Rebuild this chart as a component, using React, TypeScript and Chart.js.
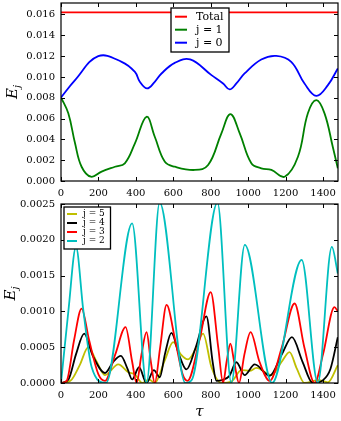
import { useEffect, useRef } from "react";
import { Chart, registerables } from "chart.js";

Chart.register(...registerables);

// ---------- data ----------
const TAU_MAX = 1480;
const xTickValues = [0, 200, 400, 600, 800, 1000, 1200, 1400];
const topTickValues = [0, 0.002, 0.004, 0.006, 0.008, 0.01, 0.012, 0.014, 0.016];
const bottomTickValues = [0, 0.0005, 0.001, 0.0015, 0.002, 0.0025];

const totalTau = [0, 1480];
const totalE = [0.0162, 0.0162];

const j1Tau = [0, 39, 75, 110, 160, 217, 288, 341, 395, 457, 501, 555, 608, 715, 786, 857, 905, 955, 1017, 1070, 1124, 1195, 1266, 1319, 1364, 1408, 1452, 1479];
const j1E = [0.00803, 0.0065, 0.00362, 0.00137, 0.00041, 0.0009, 0.00137, 0.0017, 0.00362, 0.00617, 0.00425, 0.00185, 0.00137, 0.00106, 0.00153, 0.00458, 0.00643, 0.00458, 0.0017, 0.00122, 0.00106, 0.00041, 0.00233, 0.0065, 0.00777, 0.0065, 0.00329, 0.00122];

const j0Tau = [0, 75, 199, 324, 395, 421, 460, 501, 537, 608, 690, 804, 866, 901, 937, 981, 1070, 1150, 1230, 1301, 1364, 1426, 1479];
const j0E = [0.00803, 0.00969, 0.01199, 0.01145, 0.01048, 0.00953, 0.00889, 0.00953, 0.01033, 0.01135, 0.01168, 0.01017, 0.00937, 0.0088, 0.00937, 0.01033, 0.01167, 0.01202, 0.01145, 0.00937, 0.00818, 0.00921, 0.01081];

const j5Tau = [0, 50, 100, 146, 190, 235, 306, 360, 395, 434, 470, 501, 555, 599, 640, 679, 720, 759, 804, 857, 910, 964, 1008, 1044, 1124, 1180, 1221, 1260, 1301, 1376, 1426, 1479];
const j5E = [0, 0.00003, 0.00025, 0.0005, 0.0003, 0.00011, 0.00026, 0.00015, 0.00012, 0, 0.00005, 0, 0.00032, 0.00057, 0.0004, 0.00033, 0.00048, 0.00069, 0.00022, 0, 0.00002, 0.00018, 0.00017, 0.00021, 0.00011, 0.0003, 0.00043, 0.0002, 0, 0.00004, 0.00001, 0.00025];

const j4Tau = [0, 40, 80, 124, 170, 235, 280, 320, 355, 380, 417, 457, 496, 528, 555, 590, 630, 670, 720, 777, 810, 830, 860, 900, 937, 981, 1035, 1115, 1180, 1234, 1290, 1345, 1400, 1440, 1479];
const j4E = [0, 0.00005, 0.0004, 0.00069, 0.00038, 0.00014, 0.0003, 0.00038, 0.0002, 0.00005, 0.00022, 0, 0.00018, 0.00008, 0.0004, 0.0007, 0.0004, 0.00019, 0.0005, 0.00093, 0.0003, 0.00003, 0.00004, 0.0001, 0.00029, 0.00011, 0.00026, 0.0001, 0.0004, 0.00064, 0.0003, 0, 0.00004, 0.0002, 0.00064];

const j3Tau = [0, 30, 70, 110, 150, 200, 235, 290, 345, 380, 404, 430, 457, 480, 501, 530, 564, 610, 650, 676, 740, 800, 840, 866, 885, 905, 925, 951, 980, 1013, 1060, 1115, 1180, 1248, 1300, 1355, 1400, 1461, 1479];
const j3E = [0, 0.00003, 0.0006, 0.00104, 0.0006, 0.00012, 0.00003, 0.0004, 0.00078, 0.0003, 0, 0.0004, 0.00071, 0.0003, 0, 0.0005, 0.00109, 0.0006, 0.00012, 0.00003, 0.0006, 0.00127, 0.0005, 0, 0.0003, 0.00055, 0.0003, 0, 0.0004, 0.00071, 0.0003, 0.00003, 0.0005, 0.00111, 0.0005, 0, 0.0004, 0.00106, 0.001];

const j2Tau = [0, 40, 80, 119, 164, 240, 380, 457, 527, 665, 700, 836, 910, 982, 1128, 1286, 1372, 1447, 1479];
const j2E = [0, 0.00102, 0.0019, 0.00102, 0.00022, 0, 0.00223, 0, 0.00252, 0, 0.00005, 0.00252, 0, 0.00193, 0, 0.00172, 0, 0.0019, 0.00153];

// ---------- helpers ----------
const SERIF = "'DejaVu Serif', serif";

const pts = (xs: number[], ys: number[]) => xs.map((x, i) => ({ x, y: ys[i] }));

const line = (label: string, color: string, xs: number[], ys: number[], order: number, smooth: boolean) => ({
  label,
  data: pts(xs, ys),
  borderColor: color,
  backgroundColor: color,
  borderWidth: 1.8,
  pointRadius: 0,
  fill: false,
  tension: smooth ? 0.4 : 0,
  cubicInterpolationMode: smooth ? ("default" as const) : ("monotone" as const),
  order,
});

const decorPlugin = {
  id: "decor",
  afterDatasetsDraw(chart: any, _args: any, opts: any) {
    const { ctx, chartArea: a, scales } = chart;
    const xs = scales.x;
    const ys = scales.y;
    ctx.save();
    ctx.strokeStyle = "#000";
    ctx.lineWidth = 1;
    ctx.beginPath();
    const tl = 4;
    xs.ticks.forEach((t: any) => {
      const px = Math.round(xs.getPixelForValue(t.value)) + 0.5;
      ctx.moveTo(px, a.bottom);
      ctx.lineTo(px, a.bottom - tl);
      ctx.moveTo(px, a.top);
      ctx.lineTo(px, a.top + tl);
    });
    ys.ticks.forEach((t: any) => {
      const py = Math.round(ys.getPixelForValue(t.value)) + 0.5;
      ctx.moveTo(a.left, py);
      ctx.lineTo(a.left + tl, py);
      ctx.moveTo(a.right, py);
      ctx.lineTo(a.right - tl, py);
    });
    ctx.stroke();
    ctx.lineWidth = 1.2;
    ctx.strokeRect(a.left, a.top, a.right - a.left, a.bottom - a.top);

    const lg = opts.legend;
    if (lg) {
      ctx.fillStyle = "#fff";
      ctx.fillRect(lg.left, lg.top, lg.width, lg.height);
      ctx.lineWidth = 1.3;
      ctx.strokeStyle = "#000";
      ctx.strokeRect(lg.left, lg.top, lg.width, lg.height);
      ctx.font = `${lg.fontSize}px ${SERIF}`;
      ctx.textBaseline = "middle";
      ctx.textAlign = "left";
      chart.data.datasets.forEach((ds: any, i: number) => {
        const yy = lg.top + lg.firstRow + i * lg.rowGap;
        ctx.strokeStyle = ds.borderColor;
        ctx.lineWidth = 2;
        ctx.beginPath();
        ctx.moveTo(lg.sampleX0, yy);
        ctx.lineTo(lg.sampleX1, yy);
        ctx.stroke();
        ctx.fillStyle = "#000";
        ctx.fillText(ds.label, lg.textX, yy);
      });
    }

    const cy = (a.top + a.bottom) / 2;
    ctx.save();
    ctx.translate(opts.yTitleX, cy);
    ctx.rotate(-Math.PI / 2);
    ctx.fillStyle = "#000";
    ctx.textBaseline = "alphabetic";
    ctx.textAlign = "left";
    ctx.font = `italic 15px ${SERIF}`;
    const wE = ctx.measureText("E").width;
    ctx.font = `italic 10px ${SERIF}`;
    const wj = ctx.measureText("j").width;
    const start = -(wE + wj) / 2;
    ctx.font = `italic 15px ${SERIF}`;
    ctx.fillText("E", start, 5);
    ctx.font = `italic 10px ${SERIF}`;
    ctx.fillText("j", start + wE, 8);
    ctx.restore();

    if (opts.xTitle) {
      ctx.fillStyle = "#000";
      ctx.font = `italic 15px ${SERIF}`;
      ctx.textAlign = "center";
      ctx.textBaseline = "middle";
      ctx.fillText(opts.xTitle, (a.left + a.right) / 2, a.bottom + opts.xTitleOffset);
    }
    ctx.restore();
  },
};

const zeroPad = (s: any) => {
  s.paddingTop = 0;
  s.paddingBottom = 0;
  s.paddingLeft = 0;
  s.paddingRight = 0;
};

function makeConfig(
  datasets: any[],
  yMax: number,
  yTicks: number[],
  decimals: number,
  padTop: number,
  xAxisHeight: number,
  decor: any
): any {
  return {
    type: "line",
    data: { datasets },
    plugins: [decorPlugin],
    options: {
      animation: false,
      responsive: false,
      events: [],
      layout: { padding: { top: padTop, right: 3, left: 0, bottom: 0 } },
      plugins: {
        legend: { display: false },
        tooltip: { enabled: false },
        decor,
      },
      scales: {
        x: {
          type: "linear",
          min: 0,
          max: TAU_MAX,
          grid: { display: false, drawTicks: false },
          border: { display: false },
          ticks: {
            color: "#000",
            font: { family: SERIF, size: 10 },
            padding: 6,
            maxRotation: 0,
            autoSkip: false,
            callback: (v: number) => String(v),
          },
          afterBuildTicks: (s: any) => {
            s.ticks = xTickValues.map((v) => ({ value: v }));
          },
          afterFit: (s: any) => {
            s.height = xAxisHeight;
            zeroPad(s);
          },
        },
        y: {
          type: "linear",
          min: 0,
          max: yMax,
          grid: { display: false, drawTicks: false },
          border: { display: false },
          ticks: {
            color: "#000",
            font: { family: SERIF, size: 10 },
            padding: 6,
            autoSkip: false,
            callback: (v: number) => Number(v).toFixed(decimals),
          },
          afterBuildTicks: (s: any) => {
            s.ticks = yTicks.map((v) => ({ value: v }));
          },
          afterFit: (s: any) => {
            s.width = 61;
            zeroPad(s);
          },
        },
      },
    },
  };
}

export default function App() {
  const topRef = useRef<HTMLCanvasElement>(null);
  const botRef = useRef<HTMLCanvasElement>(null);

  useEffect(() => {
    const topDatasets = [
      line("Total", "#ff0000", totalTau, totalE, 3, true),
      line("j = 1", "#008000", j1Tau, j1E, 2, true),
      line("j = 0", "#0000ff", j0Tau, j0E, 1, true),
    ];
    const botDatasets = [
      line("j = 5", "#bfbf00", j5Tau, j5E, 4, false),
      line("j = 4", "#000000", j4Tau, j4E, 3, false),
      line("j = 3", "#ff0000", j3Tau, j3E, 2, false),
      line("j = 2", "#00bfbf", j2Tau, j2E, 1, false),
    ];
    const top = new Chart(
      topRef.current!,
      makeConfig(topDatasets, 0.0171, topTickValues, 3, 3, 19, {
        yTitleX: 12,
        legend: {
          left: 171, top: 8, width: 58, height: 44,
          firstRow: 8.7, rowGap: 13, sampleX0: 175, sampleX1: 187, textX: 196, fontSize: 11,
        },
      })
    );
    const bot = new Chart(
      botRef.current!,
      makeConfig(botDatasets, 0.0025, bottomTickValues, 4, 9, 38, {
        yTitleX: 10,
        xTitle: "τ",
        xTitleOffset: 29,
        legend: {
          left: 64, top: 12, width: 46.5, height: 42,
          firstRow: 7, rowGap: 9, sampleX0: 67, sampleX1: 77, textX: 83, fontSize: 9,
        },
      })
    );
    return () => {
      top.destroy();
      bot.destroy();
    };
  }, []);

  return (
    <div style={{ position: "absolute", left: 0, top: 0, width: 341, height: 421, background: "#fff" }}>
      <canvas ref={topRef} width={341} height={200} style={{ position: "absolute", left: 0, top: 0 }} />
      <canvas ref={botRef} width={341} height={226} style={{ position: "absolute", left: 0, top: 195 }} />
    </div>
  );
}
